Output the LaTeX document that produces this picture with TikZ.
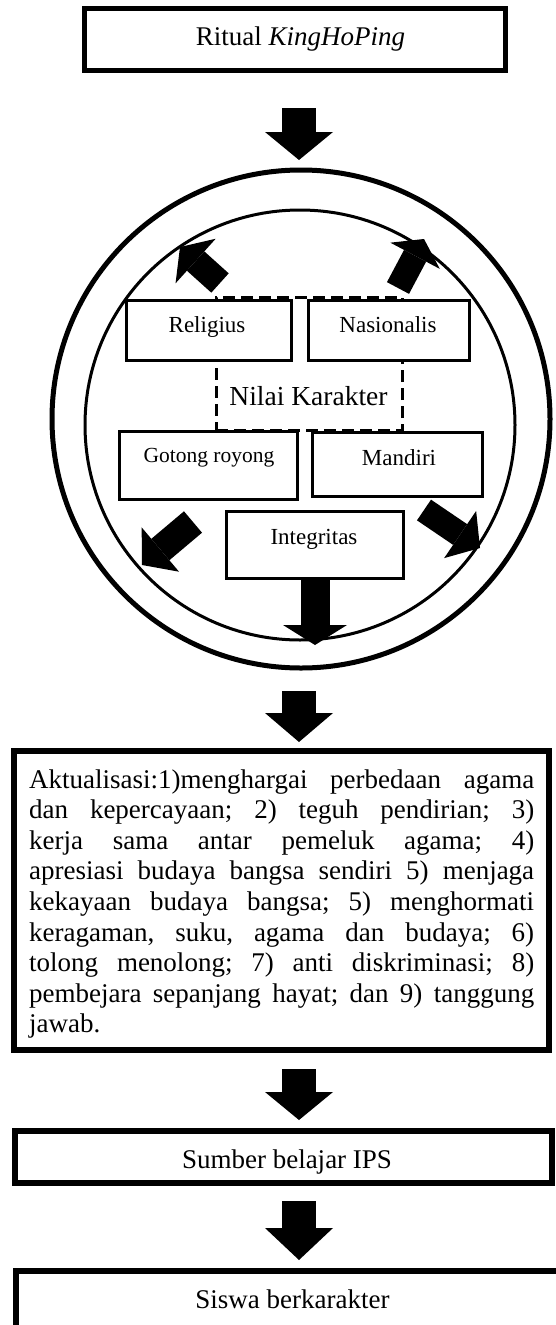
\documentclass[tikz,border=0pt]{standalone}
\usepackage{fontspec}
\setmainfont{Liberation Serif}
\usetikzlibrary{arrows.meta}

\begin{document}
\begin{tikzpicture}[x=1pt,y=-1pt,
	thickbox/.style={draw,line width=6pt,fill=white,inner sep=0pt},
	thinbox/.style={draw,line width=3pt,fill=white,inner sep=0pt},
	bigtext/.style={font=\fontsize{27}{30.6}\selectfont,inner sep=0pt,anchor=base},
	smalltext/.style={font=\fontsize{23}{27}\selectfont,inner sep=0pt,anchor=base},
	fatarrow/.style n args={3}{line width=#1,-{Triangle[width=#2,length=#3,line width=0pt]}}]
	\useasboundingbox (0,0) rectangle (555,1325);
	\fill[white] (0,0) rectangle (555,1325);

	\node[thickbox,line width=5pt,minimum width=421pt,minimum height=62pt] (ritual) at (295,39.5) {};
	\node[bigtext] (ritualtxt) at (300.5,45) {Ritual \textit{KingHoPing}};

	\draw[line width=5pt] (301,419) circle[radius=249pt];
	\draw[line width=3pt] (300,425) circle[radius=215pt];

	\node[draw,line width=3pt,dash pattern=on 12pt off 6pt,inner sep=0pt,minimum width=186pt,minimum height=133pt] (karakter) at (309,363.5) {};
	\node[bigtext,font=\fontsize{27.5}{30}\selectfont] (karaktertxt) at (308.5,405) {Nilai Karakter};

	\node[thinbox,minimum width=165pt,minimum height=60pt] (religius) at (209,330.5) {};
	\node[thinbox,minimum width=161pt,minimum height=60pt] (nasionalis) at (389,330.5) {};
	\node[thinbox,minimum width=178pt,minimum height=68pt] (gotong) at (208.5,465.5) {};
	\node[thinbox,minimum width=170pt,minimum height=64pt] (mandiri) at (397.5,464.5) {};
	\node[thinbox,minimum width=177pt,minimum height=67pt] (integritas) at (315,545) {};
	\node[smalltext] (religiustxt) at (207,332.7) {Religius};
	\node[smalltext] (nasionalistxt) at (388,332.7) {Nasionalis};
	\node[smalltext,font=\fontsize{21.5}{25}\selectfont] (gotongtxt) at (209,462) {Gotong royong};
	\node[smalltext] (mandiritxt) at (399,465) {Mandiri};
	\node[smalltext] (integritastxt) at (314,544) {Integritas};

	\coordinate (tls) at (220,283); \coordinate (tle) at (180,247);
	\coordinate (trs) at (398,288); \coordinate (tre) at (424,239);
	\coordinate (bls) at (193,522); \coordinate (ble) at (142,565);
	\coordinate (brs) at (424,510); \coordinate (bre) at (480,548);
	\coordinate (bms) at (315,578); \coordinate (bme) at (315,645);
	\draw[fatarrow={26pt}{60pt}{21pt}] (tls) -- (tle);
	\draw[fatarrow={25pt}{56pt}{19pt}] (trs) -- (tre);
	\draw[fatarrow={28pt}{58pt}{24pt}] (bls) -- (ble);
	\draw[fatarrow={25pt}{57pt}{24pt}] (brs) -- (bre);
	\draw[fatarrow={29pt}{64pt}{20pt}] (bms) -- (bme);

	\node[thickbox,minimum width=535pt,minimum height=299pt] (aktualisasi) at (281.5,900.5) {};
	\node[bigtext,anchor=base west,text width=505pt,align=justify] (aktualisasitxt) at (29,788) {\frenchspacing\hyphenpenalty=10000\tolerance=10000
		Aktualisasi:1)menghargai perbedaan agama\linebreak
		dan kepercayaan; 2) teguh pendirian; 3)\linebreak
		kerja sama antar pemeluk agama; 4)\linebreak
		apresiasi budaya bangsa sendiri 5) menjaga\linebreak
		kekayaan budaya bangsa; 5) menghormati\linebreak
		keragaman, suku, agama dan budaya; 6)\linebreak
		tolong menolong; 7) anti diskriminasi; 8)\linebreak
		pembejara sepanjang hayat; dan 9) tanggung\linebreak
		jawab.};

	\node[thickbox,minimum width=536.5pt,minimum height=52pt] (sumber) at (283.25,1157) {};
	\node[bigtext] (sumbertxt) at (287,1168) {Sumber belajar IPS};
	\node[thickbox,minimum width=546pt,minimum height=69pt] (siswa) at (289,1305.5) {};
	\node[bigtext] (siswatxt) at (292.5,1308) {Siswa berkarakter};

	\coordinate (a1s) at (299,108); \coordinate (a1e) at (299,160);
	\coordinate (a2s) at (299,691); \coordinate (a2e) at (299,742);
	\coordinate (a3s) at (299,1069); \coordinate (a3e) at (299,1120);
	\coordinate (a4s) at (299,1201); \coordinate (a4e) at (299,1260);
	\draw[fatarrow={34pt}{68pt}{28pt}] (a1s) -- (a1e);
	\draw[fatarrow={34pt}{68pt}{29pt}] (a2s) -- (a2e);
	\draw[fatarrow={34pt}{68pt}{28pt}] (a3s) -- (a3e);
	\draw[fatarrow={34pt}{68pt}{32pt}] (a4s) -- (a4e);
\end{tikzpicture}
\end{document}
